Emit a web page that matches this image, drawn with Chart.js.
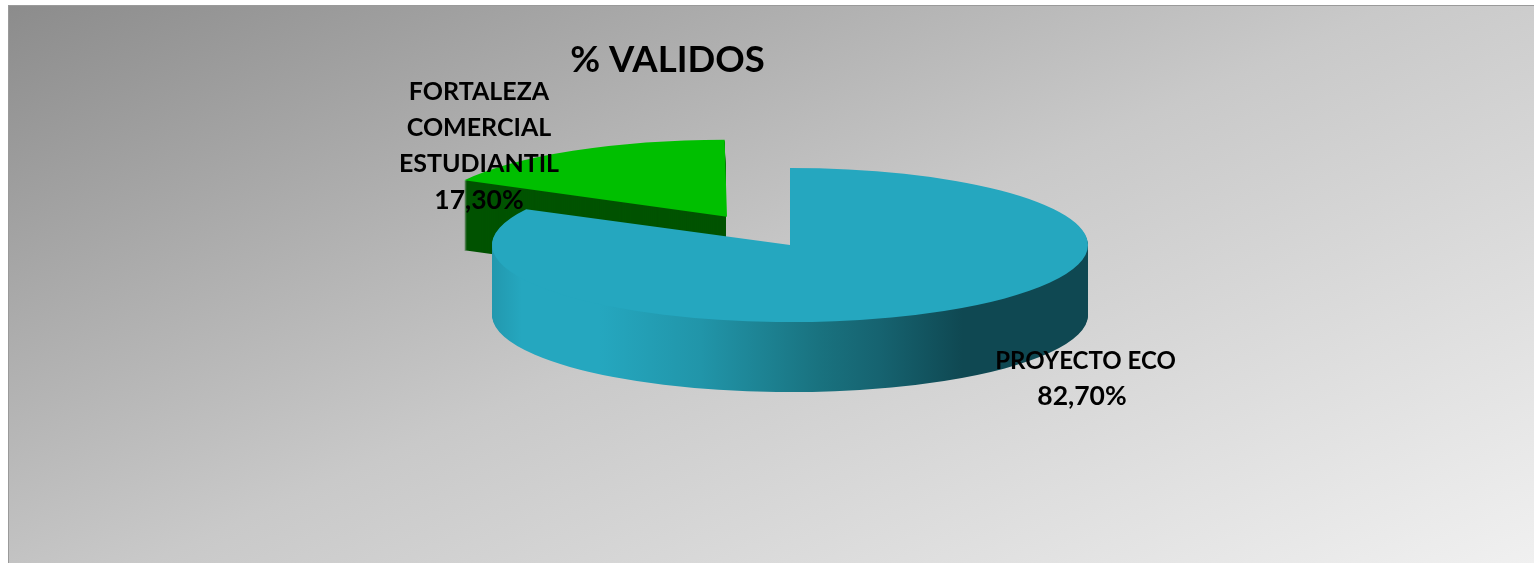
<!DOCTYPE html>
<html>
<head>
<meta charset="utf-8">
<script src="https://cdn.jsdelivr.net/npm/chart.js@4"></script>
<style>
  body { margin:0; background:#fff; }
  canvas { display:block; }
</style>
</head>
<body>
<canvas id="chart1" width="1534" height="563"></canvas>
<script>
var chartTitle = "% VALIDOS";
var categories = ["PROYECTO ECO", "FORTALEZA COMERCIAL ESTUDIANTIL"];
var values = [82.7, 17.3];
var valueLabels = ["82,70%", "17,30%"];

var topColors = ["#25a7bf", "#00bf00"];
var squash = 77 / 298;   // flatten the round pie to an ellipse
var depth = 70;
var radius = 298;
var explode = 512;       // arc element moves by offset / 4

// walls go first so the library draws the top faces over them
function wallFill(ctx, arc, i) {
  if (i == 1) return "#005300";
  var g = ctx.createLinearGradient(arc.x - radius, 0, arc.x + radius, 0);
  g.addColorStop(0, "#2298ae");
  g.addColorStop(0.05, "#25a7bf");
  g.addColorStop(0.18, "#25a7bf");
  g.addColorStop(0.35, "#2195a9");
  g.addColorStop(0.55, "#19727f");
  g.addColorStop(0.65, "#166370");
  g.addColorStop(0.79, "#0f4852");
  g.addColorStop(1, "#0f4852");
  return g;
}

function flatten(ctx, arc, down) {
  ctx.translate(arc.x, arc.y + down);
  ctx.scale(1, squash);
  ctx.translate(-arc.x, -arc.y);
}

// stacking the arc piles up its soft edge, so cut the green wall at the straight side
function clipWall(ctx, arc) {
  var half = (arc.startAngle + arc.endAngle) / 2;
  var side = Math.round(arc.x + (explode / 4) * Math.cos(half));
  ctx.beginPath();
  ctx.rect(0, 0, side - 1, 563);
  ctx.clip();
}

var pie3d = {
  id: "pie3d",
  afterDatasetsUpdate: function(chart) {
    // the offset also grows the arc, take that back so both slices share one radius
    var green = chart.getDatasetMeta(0).data[1];
    green.outerRadius -= (explode / 4) * (1 - Math.sin(Math.min(Math.PI, green.circumference)));
    green.x += 3.185;
  },
  beforeDraw: function(chart) {
    var ctx = chart.ctx;
    var g = ctx.createLinearGradient(9, 6, 470, 1038);
    g.addColorStop(0, "#8c8c8c");
    g.addColorStop(0.5, "#c9c9c9");
    g.addColorStop(1, "#f0f0f0");
    ctx.save();
    ctx.fillStyle = g;
    ctx.fillRect(9, 6, 1525, 557);
    ctx.fillStyle = "#9a9a9a";
    ctx.fillRect(8, 5, 1526, 1);
    ctx.fillRect(8, 5, 1, 558);
    ctx.restore();
  },
  beforeDatasetDraw: function(chart) {
    var ctx = chart.ctx;
    var arcs = chart.getDatasetMeta(0).data;
    [1, 0].forEach(function(i) {
      var arc = arcs[i];
      var saved = arc.options;
      arc.options = Object.assign({}, saved, { backgroundColor: wallFill(ctx, arc, i) });
      ctx.save();
      if (i == 1) clipWall(ctx, arc);
      for (var d = depth; d > 0; d--) {
        ctx.save();
        flatten(ctx, arc, d);
        arc.draw(ctx);
        ctx.restore();
      }
      ctx.restore();
      arc.options = saved;
    });
    ctx.save();
    flatten(ctx, arcs[0], 0);
  },
  afterDatasetDraw: function(chart) {
    chart.ctx.restore();
  },
  afterDraw: function(chart) {
    var ctx = chart.ctx;
    ctx.save();
    ctx.fillStyle = "#000";
    ctx.textAlign = "center";
    ctx.textBaseline = "middle";
    ctx.font = "bold 36.5px Lato";
    ctx.fillText(chartTitle, 667.5, 60);

    ctx.font = "bold 24px Lato";
    ctx.fillText(categories[0], 1085.5, 361);
    ctx.font = "bold 26.5px Lato";
    ctx.fillText(valueLabels[0], 1082, 396);

    ctx.font = "bold 25px Lato";
    categories[1].split(" ").forEach(function(t, i) { ctx.fillText(t, 479, 92 + i * 36); });
    ctx.font = "bold 26.5px Lato";
    ctx.fillText(valueLabels[1], 479, 200);
    ctx.restore();
  }
};

var myChart = new Chart(document.getElementById("chart1").getContext("2d"), {
  type: "pie",
  data: {
    labels: categories,
    datasets: [{
      data: values,
      backgroundColor: topColors,
      borderWidth: 0,
      offset: [0, explode],
      clip: false
    }]
  },
  options: {
    responsive: false,
    animation: false,
    radius: radius,
    cutout: "0%",
    layout: { padding: { left: 46, bottom: 73 } },
    plugins: { legend: { display: false }, tooltip: { enabled: false } }
  },
  plugins: [pie3d]
});
</script>
</body>
</html>
